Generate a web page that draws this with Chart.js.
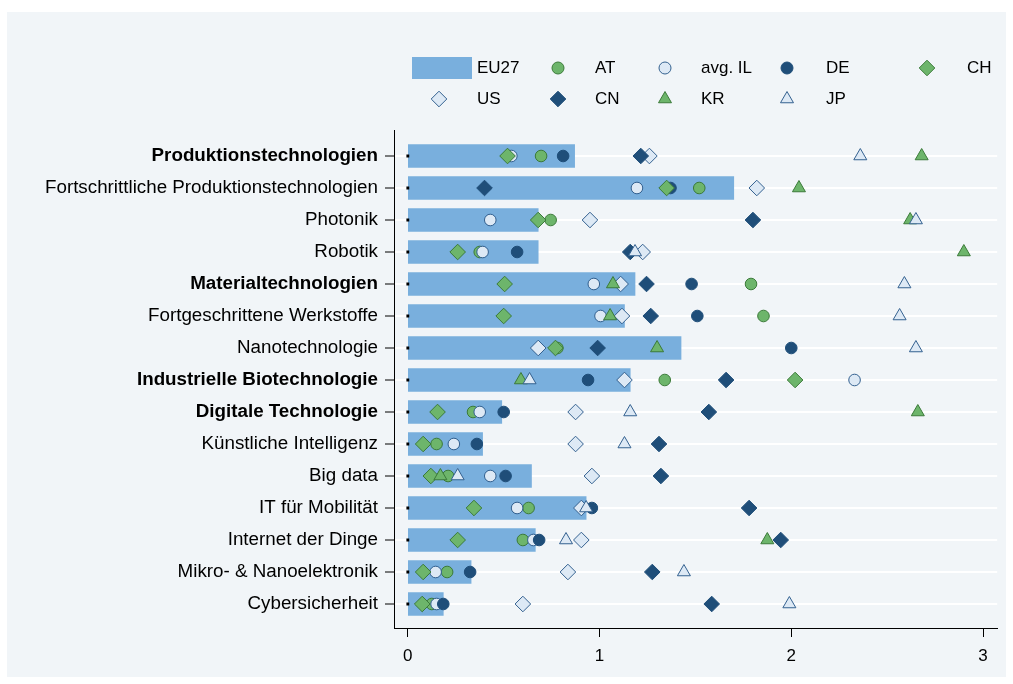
<!DOCTYPE html>
<html>
<head>
<meta charset="utf-8">
<script src="https://cdn.jsdelivr.net/npm/chart.js@4"></script>
<style>
  body { margin: 0; background: #fff; font-family: "Liberation Sans", Arial, sans-serif; }
  #wrap { position: absolute; left: 7px; top: 12px; width: 999px; height: 665px; background: #f1f5f8; }
  #legend .item-svg { position: absolute; }
  #legend .item-txt { position: absolute; font-size: 17px; line-height: 20px; color: #000; white-space: nowrap; }
</style>
</head>
<body>
<div id="wrap"><canvas id="c" width="999" height="665"></canvas></div>
<div id="legend"></div>
<script>
const categories = ['Produktionstechnologien', 'Fortschrittliche Produktionstechnologien', 'Photonik', 'Robotik',
  'Materialtechnologien', 'Fortgeschrittene Werkstoffe', 'Nanotechnologie', 'Industrielle Biotechnologie',
  'Digitale Technologie', 'Künstliche Intelligenz', 'Big data', 'IT für Mobilität', 'Internet der Dinge',
  'Mikro- & Nanoelektronik', 'Cybersicherheit'];
const headline = [true, false, false, false, true, false, false, true, true, false, false, false, false, false, false];

const eu27  = [0.87, 1.70, 0.68, 0.68, 1.185, 1.13, 1.425, 1.16, 0.49, 0.39, 0.645, 0.93, 0.665, 0.33, 0.185];
const at    = [0.695, 1.52, 0.745, 0.375, 1.79, 1.855, 0.78, 1.34, 0.34, 0.15, 0.21, 0.63, 0.60, 0.205, 0.125];
const avgIL = [0.54, 1.195, 0.43, 0.39, 0.97, 1.005, null, 2.33, 0.375, 0.24, 0.43, 0.57, 0.655, 0.145, 0.15];
const de    = [0.81, 1.37, null, 0.57, 1.48, 1.51, 2.00, 0.94, 0.50, 0.36, 0.51, 0.96, 0.685, 0.325, 0.185];
const ch    = [0.52, 1.35, 0.68, 0.26, 0.505, 0.50, 0.77, 2.02, 0.155, 0.08, 0.12, 0.345, 0.26, 0.08, 0.075];
const us    = [1.26, 1.82, 0.95, 1.225, 1.11, 1.117, 0.68, 1.13, 0.875, 0.875, 0.96, 0.905, 0.905, 0.835, 0.60];
const cn    = [1.215, 0.40, 1.80, 1.16, 1.245, 1.267, 0.99, 1.66, 1.57, 1.31, 1.32, 1.78, 1.945, 1.275, 1.585];
const kr    = [2.68, 2.04, 2.62, 2.90, 1.07, 1.055, 1.30, 0.59, 2.66, null, 0.17, null, 1.875, null, null];
const jp    = [2.36, null, 2.65, 1.185, 2.59, 2.565, 2.65, 0.635, 1.16, 1.13, 0.26, 0.93, 0.825, 1.44, 1.99];
const origin = [0, 0, 0, 0, 0, 0, 0, 0, 0, 0, 0, 0, 0, 0, 0];
const xTicks = [0, 1, 2, 3];

const FONT = '"Liberation Sans", Arial, sans-serif';
const BAR = '#79afdd';
const GREEN = '#6db56b', GREEN_D = '#3b7a39';
const LIGHT = '#dde9f5', LIGHT_D = '#33608f';
const NAVY = '#1f4e79';

const series = [
  { label: 'AT',      data: at,    style: 'circle',   fill: GREEN, stroke: GREEN_D, r: 5.8 },
  { label: 'avg. IL', data: avgIL, style: 'circle',   fill: LIGHT, stroke: LIGHT_D, r: 5.8 },
  { label: 'DE',      data: de,    style: 'circle',   fill: NAVY,  stroke: NAVY,    r: 5.8 },
  { label: 'CH',      data: ch,    style: 'rectRot',  fill: GREEN, stroke: GREEN_D, r: 7.8 },
  { label: 'US',      data: us,    style: 'rectRot',  fill: LIGHT, stroke: LIGHT_D, r: 7.8 },
  { label: 'CN',      data: cn,    style: 'rectRot',  fill: NAVY,  stroke: NAVY,    r: 7.8 },
  { label: 'KR',      data: kr,    style: 'triangle', fill: GREEN, stroke: GREEN_D, r: 7.5 },
  { label: 'JP',      data: jp,    style: 'triangle', fill: LIGHT, stroke: LIGHT_D, r: 7.5 }
];

const toPoints = arr => arr.flatMap((v, i) => v == null ? [] : [{ x: v, y: i + 1 }]);

const datasets = [{
  type: 'bar', label: 'EU27', data: toPoints(eu27), backgroundColor: BAR,
  barThickness: 23, order: 20
}];
series.forEach((s, k) => {
  datasets.push({
    type: 'scatter', label: s.label, data: toPoints(s.data),
    pointStyle: s.style, pointRadius: s.r, backgroundColor: s.fill, borderColor: s.stroke,
    pointBorderWidth: 1, order: series.length - k
  });
});
datasets.push({
  type: 'scatter', label: '', data: toPoints(origin), pointStyle: 'rect', pointRadius: 2,
  backgroundColor: '#000', borderColor: '#000', pointBorderWidth: 0, order: 0
});

new Chart(document.getElementById('c'), {
  type: 'bar',
  data: { datasets },
  options: {
    responsive: false,
    animation: false,
    events: [],
    indexAxis: 'y',
    layout: { padding: { top: 118, right: 1, left: 0, bottom: 0 } },
    plugins: { legend: { display: false }, tooltip: { enabled: false } },
    scales: {
      x: {
        type: 'linear', min: -0.0721, max: 3.074, offset: false,
        afterBuildTicks: axis => { axis.ticks = xTicks.map(v => ({ value: v })); },
        afterFit: axis => { axis.height = 49; },
        grid: { drawOnChartArea: false, offset: false, tickLength: 9, tickColor: '#000', tickWidth: 1 },
        border: { color: '#000', width: 1 },
        ticks: { color: '#000', padding: 9, font: { family: FONT, size: 17 }, callback: v => String(v) }
      },
      y: {
        type: 'linear', reverse: true, min: 0.1875, max: 15.75, offset: false,
        afterBuildTicks: axis => { axis.ticks = categories.map((c, i) => ({ value: i + 1 })); },
        afterFit: axis => { axis.width = 387; },
        grid: { color: '#ffffff', offset: false, lineWidth: 2, tickLength: 9, tickColor: '#000', tickWidth: 1 },
        border: { color: '#000', width: 1 },
        ticks: {
          color: '#000', padding: 7, autoSkip: false,
          font: ctx => ({ family: FONT, size: 18.8, weight: headline[ctx.index] ? 'bold' : 'normal' }),
          callback: v => categories[v - 1]
        }
      }
    }
  }
});

// legend laid out in a grid like the original
const legendSlots = [
  [442, 477, 68], [558, 595, 68], [665, 701, 68], [787, 826, 68], [927, 967, 68],
  [439, 477, 99], [558, 595, 99], [665, 701, 99], [787, 826, 99]
];
function markerSvg(s) {
  const c = 15;
  let shape;
  if (s.style === 'bar') {
    shape = `<rect x="0" y="4" width="60" height="22" fill="${BAR}"/>`;
  } else if (s.style === 'circle') {
    shape = `<circle cx="30" cy="${c}" r="6" fill="${s.fill}" stroke="${s.stroke}" stroke-width="1"/>`;
  } else if (s.style === 'rectRot') {
    const r = 7.8;
    shape = `<polygon points="${30 - r},${c} 30,${c - r} ${30 + r},${c} 30,${c + r}" fill="${s.fill}" stroke="${s.stroke}" stroke-width="1"/>`;
  } else {
    const r = 7.5, h = r * Math.sqrt(3) / 2;
    shape = `<polygon points="30,${c - r} ${30 + h},${c + r / 2} ${30 - h},${c + r / 2}" fill="${s.fill}" stroke="${s.stroke}" stroke-width="1"/>`;
  }
  return `<svg width="60" height="30">${shape}</svg>`;
}
const legendEl = document.getElementById('legend');
[{ label: 'EU27', style: 'bar' }].concat(series).forEach((s, i) => {
  const [mx, tx, cy] = legendSlots[i];
  const svg = document.createElement('div');
  svg.className = 'item-svg';
  svg.style.left = (mx - 30) + 'px';
  svg.style.top = (cy - 15) + 'px';
  svg.innerHTML = markerSvg(s);
  legendEl.appendChild(svg);
  const t = document.createElement('div');
  t.className = 'item-txt';
  t.style.left = tx + 'px';
  t.style.top = (cy - 10) + 'px';
  t.textContent = s.label;
  legendEl.appendChild(t);
});
</script>
</body>
</html>
